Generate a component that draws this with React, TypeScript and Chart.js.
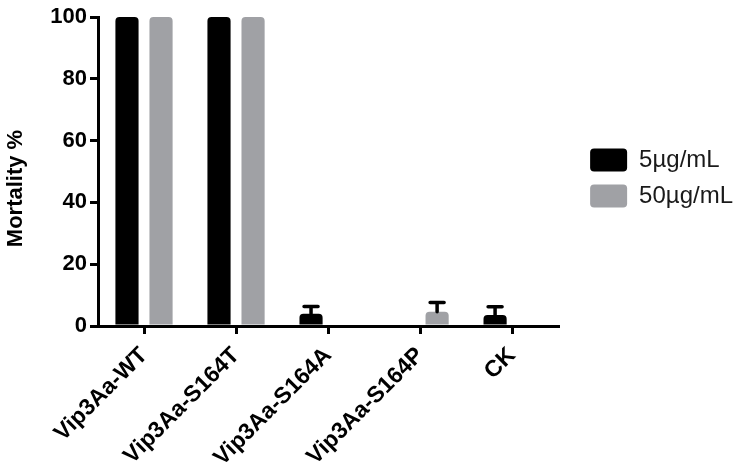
import React, { useEffect, useRef } from "react";
import { Chart, registerables } from "chart.js";

Chart.register(...registerables);

const categories = ["Vip3Aa-WT", "Vip3Aa-S164T", "Vip3Aa-S164A", "Vip3Aa-S164P", "CK"];
const seriesNames = ["5µg/mL", "50µg/mL"];
const low = [100, 100, 4.0, 0, 3.6];
const lowErr = [0, 0, 2.3, 0, 2.6];
const high = [100, 100, 0, 4.6, 0];
const highErr = [0, 0, 0, 3.0, 0];
const yTicks = [0, 20, 40, 60, 80, 100];
const yTitle = "Mortality %";

const FONT = "'Liberation Sans', Arial, Helvetica, sans-serif";
const errors = [lowErr, highErr];

const errorBarPlugin = {
  id: "errorBars",
  afterDatasetsDraw(chart: any) {
    const ctx = chart.ctx;
    const y = chart.scales.y;
    chart.data.datasets.forEach((ds: any, di: number) => {
      const meta = chart.getDatasetMeta(di);
      const errs = errors[di];
      meta.data.forEach((bar: any, i: number) => {
        const e = errs[i];
        if (!e) return;
        const v = ds.data[i];
        const yTop = y.getPixelForValue(v + e);
        const yBase = y.getPixelForValue(v);
        ctx.save();
        ctx.strokeStyle = "#000";
        ctx.lineWidth = 3.5;
        ctx.lineCap = "round";
        ctx.beginPath();
        ctx.moveTo(bar.x, yBase);
        ctx.lineTo(bar.x, yTop);
        ctx.moveTo(bar.x - 7, yTop);
        ctx.lineTo(bar.x + 7, yTop);
        ctx.stroke();
        ctx.restore();
      });
    });
  },
};

const yTitlePlugin = {
  id: "yTitle",
  afterDraw(chart: any) {
    const ctx = chart.ctx;
    const area = chart.chartArea;
    ctx.save();
    ctx.translate(16, (area.top + area.bottom) / 2 + 17);
    ctx.rotate(-Math.PI / 2);
    ctx.font = `bold 22px ${FONT}`;
    ctx.fillStyle = "#000";
    ctx.textAlign = "center";
    ctx.textBaseline = "middle";
    ctx.fillText(yTitle, 0, 0);
    ctx.restore();
  },
};

const shiftLegendPlugin = {
  id: "shiftLegend",
  afterLayout(chart: any) {
    const l = chart.legend;
    if (l) {
      l.left += 20;
      l.right += 20;
      l.top -= 64;
      l.bottom -= 64;
    }
  },
};

export default function App() {
  const ref = useRef<HTMLCanvasElement>(null);
  useEffect(() => {
    if (!ref.current) return;
    const chart = new Chart(ref.current, {
      type: "bar",
      data: {
        labels: categories,
        datasets: [
          {
            label: seriesNames[0],
            data: low,
            backgroundColor: "#000000",
            borderRadius: 4,
            categoryPercentage: 0.74,
            barPercentage: 0.68,
          },
          {
            label: seriesNames[1],
            data: high,
            backgroundColor: "#a0a1a5",
            borderRadius: 4,
            categoryPercentage: 0.74,
            barPercentage: 0.68,
          },
        ],
      },
      options: {
        responsive: false,
        animation: false,
        layout: { padding: { top: 17, right: 26, bottom: 0, left: 0 } },
        plugins: {
          tooltip: { enabled: false },
          legend: {
            position: "right",
            labels: {
              boxWidth: 37,
              boxHeight: 23,
              padding: 12,
              useBorderRadius: true,
              borderRadius: 4,
              color: "#1a1a1a",
              font: { family: FONT, size: 24 },
            },
          },
        },
        scales: {
          x: {
            afterFit: (s: any) => {
              s.height = 141;
            },
            grid: {
              offset: false,
              drawOnChartArea: false,
              drawTicks: true,
              tickLength: 8,
              lineWidth: 3,
              color: "#000",
            },
            border: { display: true, width: 3, color: "#000" },
            ticks: {
              autoSkip: false,
              minRotation: 45,
              maxRotation: 45,
              color: "#000",
              padding: 8,
              font: { family: FONT, size: 23, weight: "bold" },
            },
          },
          y: {
            min: 0,
            max: 100,
            afterFit: (s: any) => {
              s.width = 98;
            },
            afterBuildTicks: (s: any) => {
              s.ticks = yTicks.map((v) => ({ value: v }));
            },
            grid: {
              drawOnChartArea: false,
              drawTicks: true,
              tickLength: 8,
              lineWidth: 3,
              color: "#000",
            },
            border: { display: true, width: 3, color: "#000" },
            ticks: {
              color: "#000",
              padding: 3,
              font: { family: FONT, size: 22, weight: "bold" },
            },
            title: { display: false },
          },
        },
      },
      plugins: [errorBarPlugin, shiftLegendPlugin, yTitlePlugin],
    });
    return () => chart.destroy();
  }, []);
  return (
    <div style={{ position: "absolute", left: 0, top: 0, width: 749, height: 467, background: "#fff" }}>
      <canvas ref={ref} width={749} height={467} />
    </div>
  );
}
